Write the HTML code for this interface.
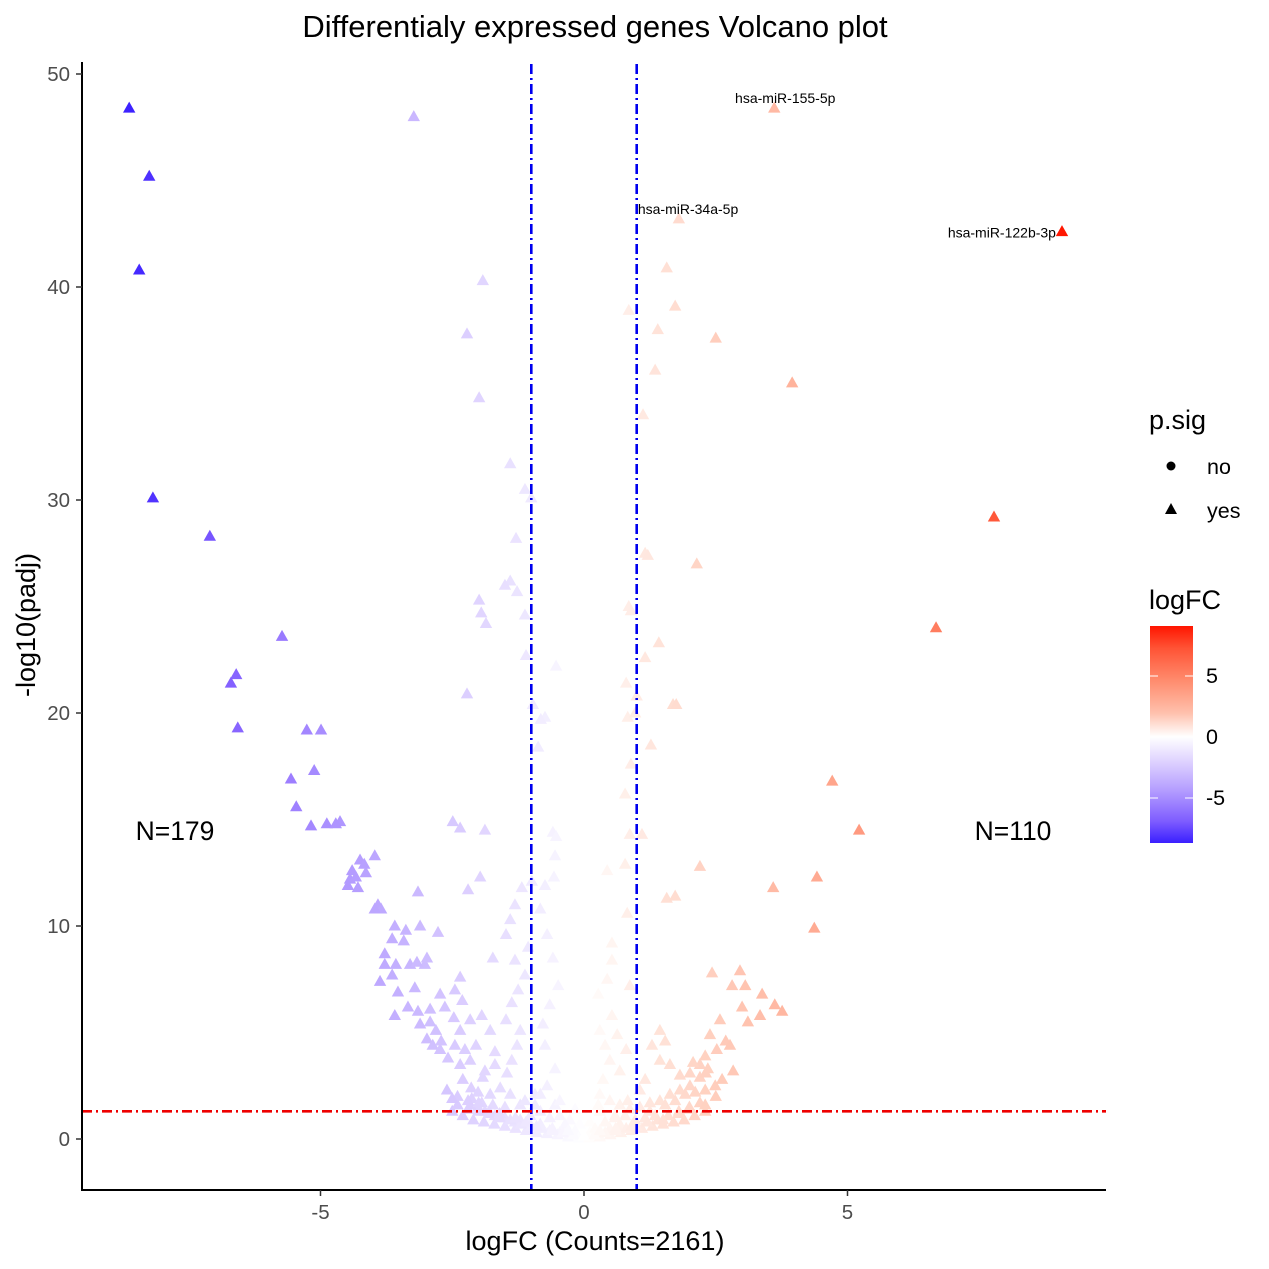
<!DOCTYPE html>
<html><head><meta charset="utf-8"><style>
html,body{margin:0;padding:0;background:#fff}
svg{display:block;font-family:"Liberation Sans",Arial,sans-serif}
</style></head><body>
<svg id="chart" width="1269" height="1269" viewBox="0 0 1269 1269">
<rect width="1269" height="1269" fill="#fff"/>
<text x="595" y="37" font-size="31" text-anchor="middle" fill="#000">Differentialy expressed genes Volcano plot</text>
<g id="pts"></g>
<g id="refs"></g>
<g id="axes"></g>
<text x="175" y="840" font-size="26.5" text-anchor="middle">N=179</text>
<text x="1013" y="840" font-size="26.5" text-anchor="middle">N=110</text>
<text x="595" y="1250" font-size="27" text-anchor="middle" fill="#000">logFC (Counts=2161)</text>
<text transform="translate(35,625) rotate(-90)" font-size="27" text-anchor="middle" fill="#000">-log10(padj)</text>
<g>
<text x="1149" y="429" font-size="27">p.sig</text>
<circle cx="1171" cy="466" r="4.5" fill="#000"/>
<text x="1207" y="474" font-size="21.5">no</text>
<polygon points="1171,503 1177,514 1165,514" fill="#000"/>
<text x="1207" y="518" font-size="21.5">yes</text>
</g>
<g>
<text x="1149" y="609" font-size="27">logFC</text>
<defs><linearGradient id="cb" x1="0" y1="0" x2="0" y2="1">
<stop offset="0" stop-color="#ff1500"/><stop offset="0.1" stop-color="#ff5234"/><stop offset="0.25" stop-color="#ff8b6d"/><stop offset="0.4" stop-color="#ffc0ac"/><stop offset="0.51" stop-color="#ffffff"/><stop offset="0.63" stop-color="#ddd0ff"/><stop offset="0.76" stop-color="#b39cff"/><stop offset="0.9" stop-color="#7e5cff"/><stop offset="1" stop-color="#3a1fff"/>
</linearGradient></defs>
<rect x="1150" y="626" width="43" height="217" fill="url(#cb)"/>
<g stroke="#fff" stroke-width="1"><line x1="1150" y1="676" x2="1158" y2="676"/><line x1="1185" y1="676" x2="1193" y2="676"/><line x1="1150" y1="737" x2="1158" y2="737"/><line x1="1185" y1="737" x2="1193" y2="737"/><line x1="1150" y1="798" x2="1158" y2="798"/><line x1="1185" y1="798" x2="1193" y2="798"/></g>
<text x="1206" y="683" font-size="21.5">5</text>
<text x="1206" y="744" font-size="21.5">0</text>
<text x="1206" y="805" font-size="21.5">-5</text>
</g>
</svg>
<script>
const xs = [-8.63,-8.25,-8.44,-8.18,-7.10,-5.73,-6.60,-6.70,-6.57,-5.26,-4.99,-5.56,-5.12,-5.46,-5.18,-4.88,-4.63,-4.71,-3.23,-1.92,-2.22,-1.99,-1.40,-1.12,-1.0,-1.29,-1.4,-1.5,-1.27,-1.99,-1.95,-1.86,-1.12,-1.1,-0.53,-2.22,-0.97,-0.74,-0.82,-0.87,-2.49,-2.35,-1.88,-0.59,-0.53,-0.55,-0.57,-1.97,-3.15,-2.2,
3.61,1.80,9.07,1.57,0.85,1.73,1.40,2.50,1.35,3.95,1.12,7.78,1.16,1.21,2.14,0.85,0.89,1.42,6.68,1.16,0.80,1.0,1.69,1.75,0.83,0.97,1.27,0.89,4.71,0.78,5.22,0.87,1.1,0.78,2.2,0.44,4.42,3.59,1.57,1.73,0.82,4.37,0.53,
-4.40,-4.25,-4.17,-4.44,-4.33,-4.48,-3.97,-4.14,-4.29,-3.91,-3.85,-3.97,-3.59,-3.38,-3.64,-3.78,-3.42,-3.11,-2.77,-3.78,-3.57,-3.30,-3.64,-3.87,-3.02,-3.17,-2.98,-3.53,-3.21,-3.34,-3.15,-2.92,-2.73,-2.45,-2.35,-2.31,-2.64,-3.59,-3.11,-2.92,-2.81,-2.98,-2.87,-2.71,-2.47,-2.35,-2.16,-1.94,-1.78,-1.69,-2.05,-2.26,-2.45,-2.58,-2.73,-2.35,-2.16,-1.88,-1.69,-2.30,-2.14,-2.01,-1.92,-1.78,-1.59,-1.46,-1.37,-1.27,-1.21,-1.48,-1.37,-1.25,-1.12,-1.31,-1.06,-1.73,-1.48,-1.40,-1.31,-1.18,-0.99,-0.74,-0.83,-0.70,-0.59,-0.49,-0.65,-0.78,-0.74,-0.55,-0.70,-0.93,-1.21,-1.50,-1.73,-1.94,-2.13,-2.01,-2.20,-0.83,-0.55,-0.46,-0.27,-0.08,0.11,
3.34,3.62,3.76,3.00,3.06,2.81,2.96,2.43,3.38,3.11,2.58,2.69,2.77,2.39,2.52,2.30,2.20,2.35,2.07,2.20,2.01,1.82,1.63,1.44,1.25,1.06,0.87,0.68,0.49,0.30,0.36,0.49,0.40,0.30,0.53,0.27,0.44,0.53,0.87,1.44,1.54,1.82,2.01,2.31,2.83,1.44,1.29,1.63,1.06,1.16,0.68,0.80,0.63,0.30,0.59,0.78,1.25,1.54,1.73,1.92,2.11,2.30,2.49,2.62,
-1.21,-1.02,-0.83,-0.65,-0.46,-0.27,0.30,0.49,0.68,-1.69,-1.88,-1.50,-1.31,-1.02,-2.16,0.97,1.16,1.35,-0.65,-0.36,-0.17,0.11,0.21,0.40,0.59,0.83,-0.93,-1.12,-1.40,-0.83,-0.46,-0.17,0.02,0.27,
-2.5,-2.3,-2.1,-1.9,-1.7,-1.5,-1.3,-1.1,-0.9,-0.7,-0.5,-0.3,-0.1,0.1,0.3,0.5,0.7,0.9,1.1,1.3,1.5,1.7,1.9,2.1,2.3,
-2.4,-2.2,-2.0,-1.8,-1.6,-1.4,-1.2,-1.0,-0.8,-0.6,-0.4,-0.2,0.0,0.2,0.4,0.6,0.8,1.0,1.2,1.4,1.6,1.8,2.0,2.2,
-2.6,-2.4,-2.5,-2.2,-2.0,-1.8,-1.6,-1.3,-1.1,-0.9,-0.6,-0.3,0.3,0.6,0.9,1.2,1.5,1.8,2.0,2.3,2.5];
const ys = [48.4,45.2,40.8,30.1,28.3,23.6,21.8,21.4,19.3,19.2,19.2,16.9,17.3,15.6,14.7,14.8,14.9,14.8,48.0,40.3,37.8,34.8,31.7,30.5,30.1,28.2,26.2,26.0,25.7,25.3,24.7,24.2,24.6,22.7,22.2,20.9,20.4,19.8,19.7,18.4,14.9,14.6,14.5,14.4,14.2,13.3,12.3,12.3,11.6,11.7,
48.4,43.2,42.6,40.9,38.9,39.1,38.0,37.6,36.1,35.5,34.0,29.2,27.5,27.4,27.0,25.0,24.8,23.3,24.0,22.6,21.4,20.8,20.4,20.4,19.8,20.0,18.5,17.6,16.8,16.2,14.5,14.3,14.3,12.9,12.8,12.6,12.3,11.8,11.3,11.4,10.6,9.9,9.2,
12.6,13.1,12.9,12.2,12.3,11.9,13.3,12.5,11.8,11.0,10.8,10.8,10.0,9.8,9.4,8.7,9.3,10.0,9.7,8.2,8.2,8.2,7.7,7.4,8.2,8.3,8.5,6.9,7.1,6.2,6.0,6.1,6.8,7.0,7.6,6.5,6.2,5.8,5.4,5.5,5.1,4.7,4.4,4.6,5.7,5.1,5.6,5.8,5.1,4.1,4.4,4.2,4.4,3.8,4.2,3.5,3.7,3.2,3.5,2.8,2.4,2.2,2.9,2.1,2.4,3.1,3.7,4.4,5.1,5.6,6.4,7.0,7.7,8.4,9.0,8.5,9.6,10.3,11.0,11.8,12.1,11.9,10.8,9.6,8.5,7.2,6.3,5.4,4.4,3.3,2.5,2.1,1.6,1.5,1.6,1.7,1.9,1.5,1.4,1.3,1.6,1.1,0.9,0.7,0.8,
5.8,6.3,6.0,6.2,7.2,7.2,7.9,7.8,6.8,5.5,5.6,4.6,4.4,4.9,4.2,3.9,3.5,3.3,3.6,2.9,2.5,2.3,2.1,1.8,1.7,1.5,1.4,1.6,1.8,2.1,2.8,3.7,4.4,5.1,5.8,6.8,7.5,8.4,7.2,5.1,4.6,3.0,3.1,3.1,3.2,3.7,4.4,3.5,2.3,2.8,3.2,4.2,4.9,1.3,1.0,1.1,1.3,1.6,1.8,2.1,2.2,2.3,2.5,2.8,
0.9,0.7,0.7,0.4,0.3,0.3,0.4,0.5,0.7,1.1,1.3,1.0,0.8,1.1,1.6,0.9,1.0,1.1,1.0,0.7,0.4,0.3,0.5,0.8,1.1,1.8,1.6,1.8,2.1,2.1,1.8,1.4,1.1,1.6,
1.3,1.1,0.9,0.8,0.7,0.6,0.5,0.4,0.3,0.25,0.2,0.1,0.05,0.05,0.1,0.2,0.3,0.4,0.5,0.6,0.7,0.8,0.9,1.1,1.3,
1.6,1.4,1.3,1.2,1.0,0.9,0.7,0.6,0.5,0.4,0.3,0.2,0.15,0.2,0.3,0.4,0.5,0.6,0.8,0.9,1.1,1.3,1.5,1.7,
2.3,2.0,1.9,1.8,1.7,1.3,1.2,1.0,0.8,0.6,0.5,0.4,0.4,0.5,0.6,0.8,0.9,1.2,1.4,1.6,2.0];
const xTicks = [-5, 0, 5];
const yTicks = [0, 10, 20, 30, 40, 50];
const labelNames = ["hsa-miR-155-5p", "hsa-miR-34a-5p", "hsa-miR-122b-3p"];
const labelX = [3.61, 1.80, 9.07];
const labelY = [48.4, 43.2, 42.6];
const fcCut = [-1, 1];
const padjCut = [1.3];

const NS = "http://www.w3.org/2000/svg";
const sx = v => 584 + 52.7 * v;
const sy = v => 1139 - 21.3 * v;
function mk(tag, attrs, parent) { const e = document.createElementNS(NS, tag); for (const k in attrs) e.setAttribute(k, attrs[k]); parent.appendChild(e); return e; }
function hex(h){return [parseInt(h.slice(1,3),16),parseInt(h.slice(3,5),16),parseInt(h.slice(5,7),16)];}
const negStops = [[0,"#ffffff"],[0.25,"#ddd0ff"],[0.5,"#b59dff"],[0.75,"#8966ff"],[0.9,"#6040ff"],[1,"#3a1fff"]];
const posStops = [[0,"#ffffff"],[0.25,"#ffd2c2"],[0.5,"#ffa88f"],[0.75,"#ff7a5c"],[0.9,"#ff4a2c"],[1,"#ff1500"]];
function col(v){
  const st = v < 0 ? negStops : posStops;
  let t = v < 0 ? -v / 8.7 : v / 9.1; t = Math.min(1, t);
  for (let i = 1; i < st.length; i++) if (t <= st[i][0]) {
    const f = (t - st[i-1][0]) / (st[i][0] - st[i-1][0]); const a = hex(st[i-1][1]), b = hex(st[i][1]);
    return "rgb(" + a.map((c,j)=>Math.round(c + (b[j]-c)*f)).join(",") + ")";
  }
  return st[st.length-1][1];
}
const pts = document.getElementById("pts");
for (let i = 0; i < xs.length; i++) {
  const cx = sx(xs[i]), cy = sy(ys[i]);
  const p = mk("polygon", {points: `${cx},${cy-6.5} ${cx+6.2},${cy+4.5} ${cx-6.2},${cy+4.5}`, fill: col(xs[i])}, pts);
  
  
}
for (let i = 0; i < labelNames.length; i++) {
  const lx = sx(labelX[i]), ly = sy(labelY[i]);
  let tx = lx + 11, anchor = "middle", tyy = ly - 5;
  if (i === 1) { tx = lx - 41; anchor = "start"; tyy = ly - 5; }
  if (i === 2) { tx = lx - 6; anchor = "end"; tyy = ly + 6; }
  const t = mk("text", {x: tx, y: tyy, "font-size": 14, "text-anchor": anchor, fill: "#000"}, pts);
  t.textContent = labelNames[i];
  
  
}
const refs = document.getElementById("refs");
for (const c of fcCut) {
  const l = mk("line", {x1: sx(c), x2: sx(c), y1: 64, y2: 1190, stroke: "#0000ee", "stroke-width": 2.6, "stroke-dasharray": "10,4,2,4"}, refs);
  
  
}
for (const c of padjCut) {
  const l = mk("line", {x1: 82, x2: 1106, y1: sy(c), y2: sy(c), stroke: "#ee0000", "stroke-width": 2.6, "stroke-dasharray": "10,4,2,4"}, refs);
  
  
}
const axes = document.getElementById("axes");
const ya = mk("line", {x1: 82, x2: 82, y1: 62, y2: 1191, stroke: "#000", "stroke-width": 2}, axes);


const xa = mk("line", {x1: 81, x2: 1106, y1: 1190, y2: 1190, stroke: "#000", "stroke-width": 2}, axes);


for (const v of xTicks) {
  const tk = mk("line", {x1: sx(v), x2: sx(v), y1: 1190, y2: 1196, stroke: "#333", "stroke-width": 1.5}, axes);
  
  
  const t = mk("text", {x: sx(v), y: 1219, "font-size": 20.5, "text-anchor": "middle", fill: "#4d4d4d"}, axes);
  t.textContent = v;
  
  
}
for (const v of yTicks) {
  const tk = mk("line", {x1: 76, x2: 82, y1: sy(v), y2: sy(v), stroke: "#333", "stroke-width": 1.5}, axes);
  
  
  const t = mk("text", {x: 70, y: sy(v) + 7, "font-size": 20.5, "text-anchor": "end", fill: "#4d4d4d"}, axes);
  t.textContent = v;
  
  
}
</script>
</body></html>
